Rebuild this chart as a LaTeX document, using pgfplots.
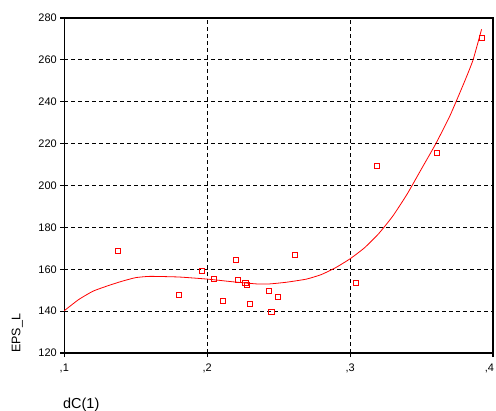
\documentclass[border=0pt]{standalone}
\usepackage{pgfplots}
\pgfplotsset{compat=1.18}
\usepackage{fontspec}
\setmainfont{Liberation Sans}
\definecolor{spssred}{RGB}{255,0,0}
\begin{document}
\begin{tikzpicture}[x=1bp,y=1bp]
\begin{axis}[
  at={(64.3bp,58bp)}, anchor=south west,
  scale only axis, width=428.7bp, height=335bp,
  xmin=0.1, xmax=0.4, ymin=120, ymax=280,
  xtick={0.1,0.2,0.3,0.4}, xticklabels={{,1},{,2},{,3},{\kern-7bp,4}},
  ytick={120,140,...,280},
  /pgf/number format/assume math mode=true,
  ticklabel style={font=\fontsize{11}{13}\selectfont},
  xticklabel style={yshift=-3bp},
  tick align=outside, major tick length=4bp,
  tick style={black, line width=1.2bp},
  xtick pos=bottom, ytick pos=left,
  grid=major,
  major grid style={black, dash pattern=on 4bp off 3bp, line width=0.8bp},
  axis line style={black, line width=1.3bp},
  xlabel={dC(1)}, ylabel={EPS\_L},
  xlabel style={at={(axis description cs:-0.003,-0.155)}, anchor=west, inner sep=0pt, font=\fontsize{14.5}{16}\selectfont},
  ylabel style={at={(axis description cs:-0.110,0)}, anchor=west, inner sep=0pt, font=\fontsize{12.5}{14}\selectfont},
  clip=false,
]
\addplot[spssred, line width=0.8bp, smooth, tension=0.3] coordinates {
(0.1,140.2) (0.11,145.5) (0.12,149.5) (0.13,152) (0.14,154.2) (0.15,156)
(0.16,156.6) (0.18,156.3) (0.2,155.3) (0.218,154) (0.2345,153) (0.2438,153)
(0.2555,153.8) (0.2695,155.3) (0.28,157.5) (0.29,160.8) (0.3,165) (0.31,170.2)
(0.32,177) (0.33,185.5) (0.34,196) (0.35,208) (0.36,220) (0.37,233.5)
(0.38,249.5) (0.386,259.9) (0.392,274.6)
};
\addplot[only marks, mark=square, mark size=2.6bp, spssred, mark options={line width=0.9bp}] coordinates {
(0.1373,168.7) (0.1804,147.6) (0.1965,159.2) (0.2047,155.5) (0.211,145.0)
(0.220,164.4) (0.2217,154.9) (0.2268,153.6) (0.228,152.5) (0.2301,143.4)
(0.2434,149.8) (0.245,139.6) (0.2497,146.6) (0.2613,166.7) (0.304,153.4)
(0.3189,209.5) (0.3608,215.4) (0.3921,270.6)
};
\end{axis}
\pgfresetboundingbox
\path (0,0) rectangle (496bp,411bp);
\end{tikzpicture}
\end{document}
